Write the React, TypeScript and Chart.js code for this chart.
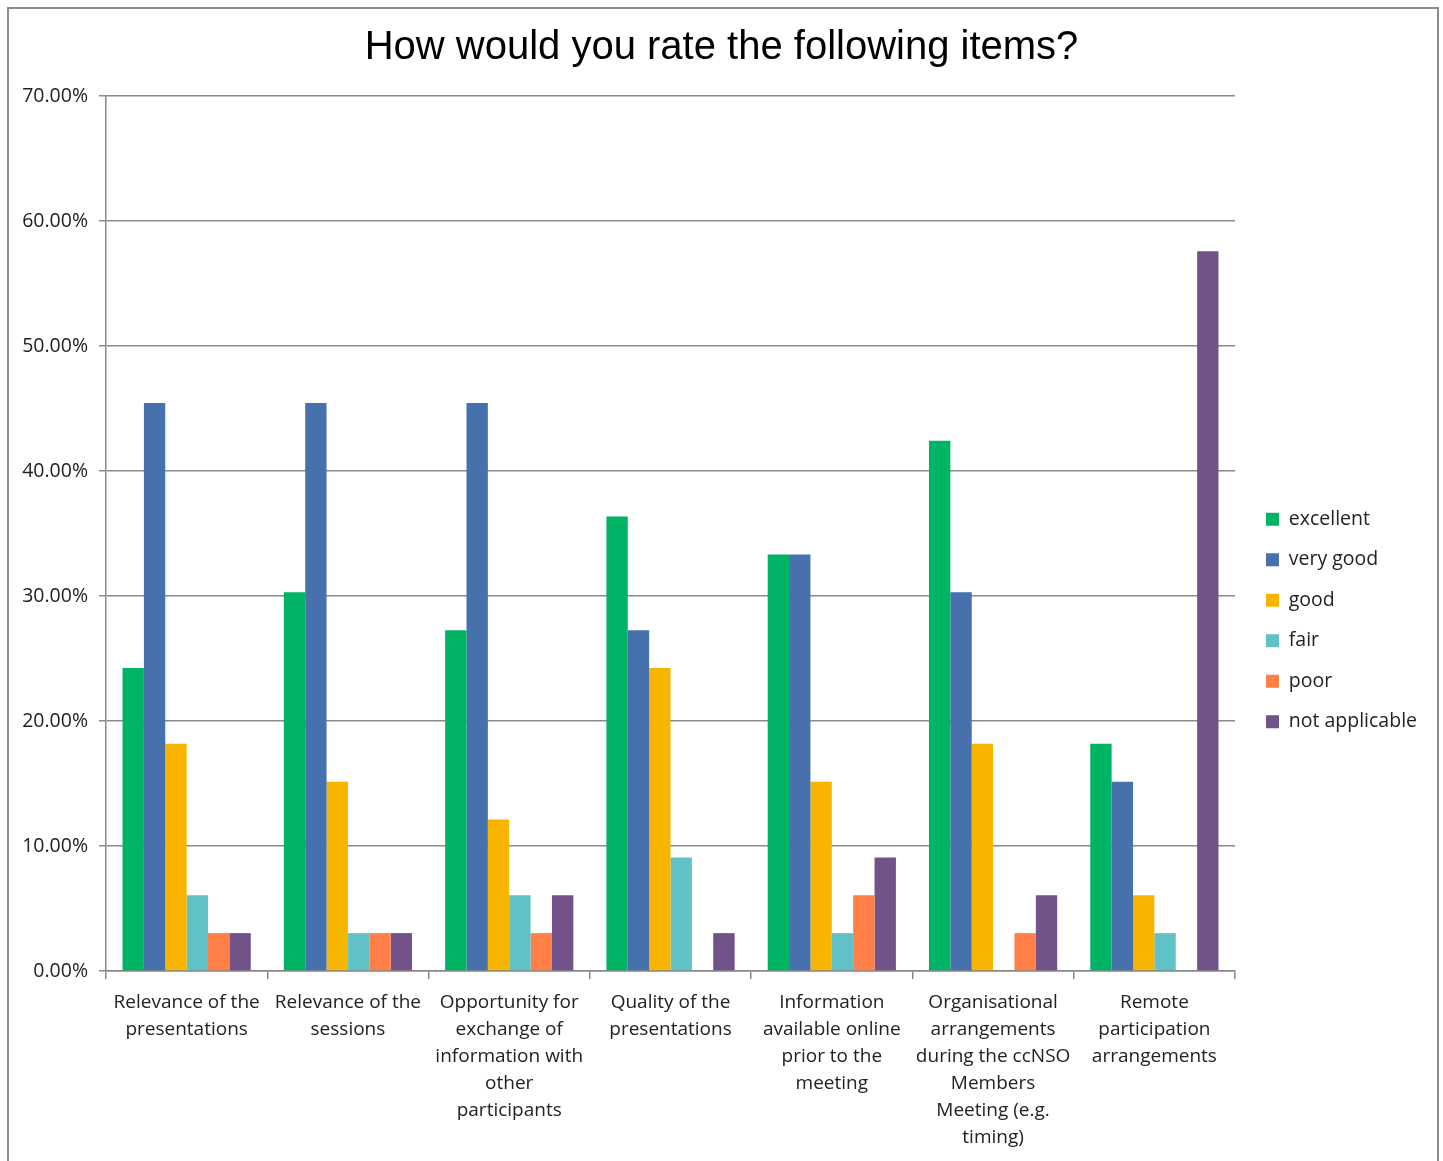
import React, { useEffect, useRef } from "react";
import { Chart, registerables } from "chart.js";

Chart.register(...registerables);

const categories: string[][] = [
  ["Relevance of the", "presentations"],
  ["Relevance of the", "sessions"],
  ["Opportunity for", "exchange of", "information with", "other", "participants"],
  ["Quality of the", "presentations"],
  ["Information", "available online", "prior to the", "meeting"],
  ["Organisational", "arrangements", "during the ccNSO", "Members", "Meeting (e.g.", "timing)"],
  ["Remote", "participation", "arrangements"],
];

const excellent = [24.24, 30.3, 27.27, 36.36, 33.33, 42.42, 18.18];
const veryGood = [45.45, 45.45, 45.45, 27.27, 33.33, 30.3, 15.15];
const good = [18.18, 15.15, 12.12, 24.24, 15.15, 18.18, 6.06];
const fair = [6.06, 3.03, 6.06, 9.09, 3.03, 0, 3.03];
const poor = [3.03, 3.03, 3.03, 0, 6.06, 3.03, 0];
const notApplicable = [3.03, 3.03, 6.06, 3.03, 9.09, 6.06, 57.58];

const seriesNames = ["excellent", "very good", "good", "fair", "poor", "not applicable"];
const seriesColors = ["#00B466", "#4671AD", "#F7B500", "#60C2C6", "#FF7F47", "#725389"];

const title = "How would you rate the following items?";

const framePlugin = {
  id: "frame",
  beforeDraw(chart: any) {
    const ctx = chart.ctx;
    ctx.save();
    ctx.fillStyle = "#ffffff";
    ctx.fillRect(0, 0, chart.width, chart.height);
    ctx.strokeStyle = "#8c8c8c";
    ctx.lineWidth = 2;
    ctx.strokeRect(8, 8, 1430, 1200);
    ctx.restore();
  },
};

const blockShift = {
  id: "blockShift",
  afterLayout(chart: any) {
    const lg = chart.legend;
    if (lg) {
      lg.left += 10;
      lg.right += 10;
      lg.top += 46;
      lg.bottom += 46;
    }
    const tb = chart.titleBlock;
    if (tb) {
      tb.left += 7;
      tb.right += 7;
    }
  },
};

export default function App() {
  const ref = useRef<HTMLCanvasElement>(null);
  useEffect(() => {
    const values = [excellent, veryGood, good, fair, poor, notApplicable];
    const chart = new Chart(ref.current!, {
      type: "bar",
      data: {
        labels: categories,
        datasets: seriesNames.map((n, i) => ({
          label: n,
          data: values[i],
          backgroundColor: seriesColors[i],
          borderWidth: 0,
          categoryPercentage: 0.795,
          barPercentage: 1,
        })),
      },
      options: {
        animation: false,
        responsive: false,
        devicePixelRatio: 1,
        layout: { padding: { left: 12, right: 26, top: 0, bottom: 12 } },
        plugins: {
          title: {
            display: true,
            text: title,
            color: "#000",
            font: { family: "'Liberation Sans', Arial, sans-serif", size: 40, weight: "normal", lineHeight: 1.2 },
            padding: { top: 24, bottom: 24 },
          },
          legend: {
            position: "right",
            labels: {
              boxWidth: 13,
              boxHeight: 13,
              padding: 21,
              color: "#222",
              font: { family: "'Open Sans', sans-serif", size: 19.5 },
            },
          },
          tooltip: { enabled: false },
        },
        scales: {
          x: {
            offset: true,
            afterFit: (s: any) => {
              s.height = 178;
            },
            grid: { offset: true, drawOnChartArea: false, tickLength: 8, color: "#888", lineWidth: 1.5 },
            border: { color: "#888", width: 1.5 },
            ticks: {
              autoSkip: false,
              maxRotation: 0,
              color: "#222",
              padding: 10,
              font: { family: "'Open Sans', sans-serif", size: 19, lineHeight: 1.42 },
            },
          },
          y: {
            min: 0,
            max: 70,
            afterFit: (s: any) => {
              s.width = 94;
            },
            grid: { color: "#8a8a8a", lineWidth: 1.5, tickLength: 7 },
            border: { color: "#888", width: 1.5 },
            ticks: {
              stepSize: 10,
              color: "#222",
              padding: 11,
              font: { family: "'Open Sans', sans-serif", size: 19.5 },
              callback: (v: any) => Number(v).toFixed(2) + "%",
            },
          },
        },
      },
      plugins: [framePlugin, blockShift],
    });
    return () => chart.destroy();
  }, []);
  return (
    <div style={{ position: "fixed", left: 0, top: 0, width: 1443, height: 1161 }}>
      <canvas ref={ref} width={1443} height={1161} style={{ width: 1443, height: 1161 }} />
    </div>
  );
}
